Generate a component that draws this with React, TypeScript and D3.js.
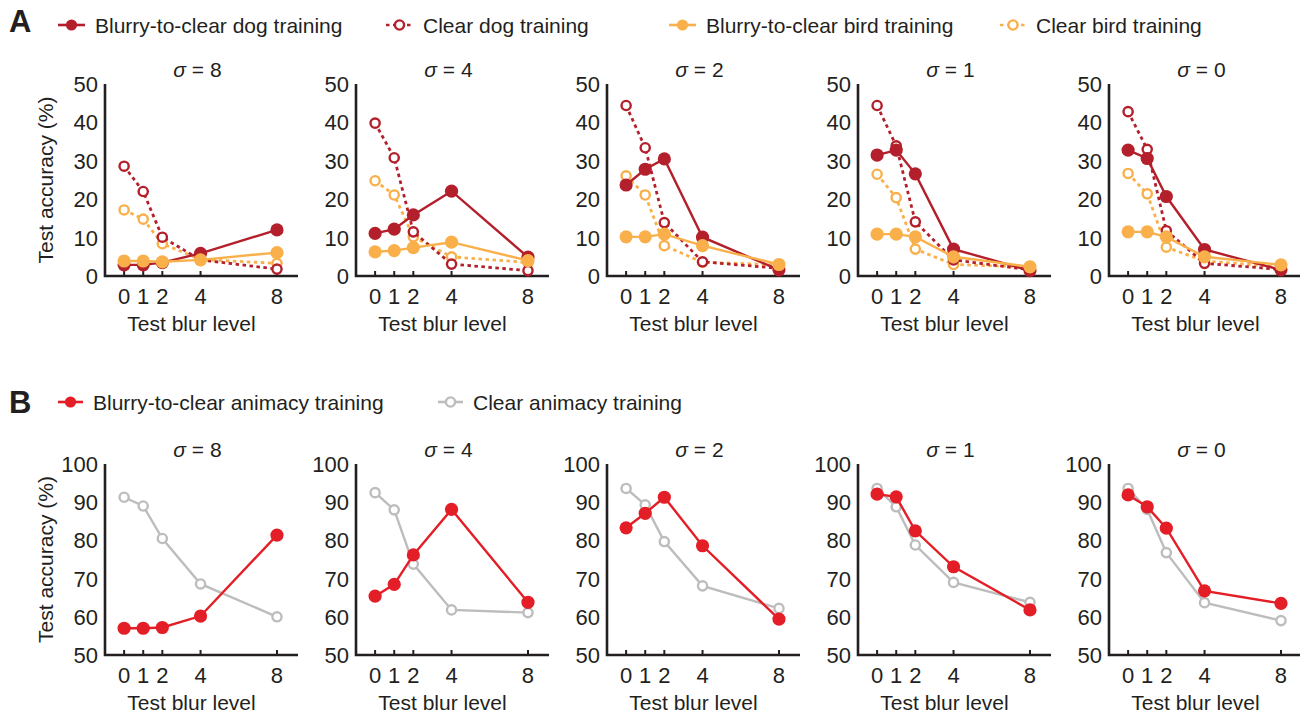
import React from "react";
import * as d3 from "d3";

const blurLevels = [0, 1, 2, 4, 8];
const sigmas = ["8", "4", "2", "1", "0"];

// row A, one array per training sigma (8, 4, 2, 1, 0)
const blurryDog = [
  [2.9, 2.9, 3.5, 5.9, 12.0],
  [11.1, 12.2, 15.9, 22.1, 4.9],
  [23.7, 27.8, 30.5, 10.1, 1.6],
  [31.5, 32.8, 26.6, 7.0, 1.4],
  [32.8, 30.6, 20.7, 6.9, 1.6],
];
const clearDog = [
  [28.6, 22.0, 10.1, 4.2, 1.8],
  [39.8, 30.8, 11.5, 3.1, 1.4],
  [44.4, 33.4, 13.9, 3.7, 2.0],
  [44.4, 33.9, 14.1, 4.2, 1.6],
  [42.8, 33.0, 11.8, 3.3, 1.7],
];
const blurryBird = [
  [3.9, 3.9, 3.7, 4.2, 6.1],
  [6.3, 6.6, 7.4, 8.8, 4.0],
  [10.2, 10.2, 10.9, 7.9, 3.0],
  [10.9, 10.9, 10.2, 5.0, 2.4],
  [11.5, 11.5, 10.2, 5.0, 2.9],
];
const clearBird = [
  [17.2, 14.8, 8.4, 4.3, 3.3],
  [24.8, 21.1, 10.2, 5.0, 3.5],
  [26.1, 21.1, 7.9, 3.6, 2.9],
  [26.5, 20.4, 7.0, 3.0, 2.3],
  [26.7, 21.4, 7.5, 3.9, 2.4],
];

// row B
const blurryAnimacy = [
  [57.0, 57.0, 57.2, 60.2, 81.4],
  [65.4, 68.5, 76.2, 88.1, 63.8],
  [83.3, 87.1, 91.3, 78.6, 59.4],
  [92.1, 91.4, 82.5, 73.1, 61.8],
  [91.9, 88.8, 83.2, 66.8, 63.5],
];
const clearAnimacy = [
  [91.3, 89.0, 80.5, 68.6, 60.0],
  [92.5, 88.0, 73.8, 61.8, 61.1],
  [93.6, 89.3, 79.7, 68.1, 62.2],
  [93.6, 88.8, 78.8, 69.0, 63.8],
  [93.6, 88.1, 76.8, 63.7, 59.0],
];

const DARK_RED = "#b3202c";
const ORANGE = "#f9b04a";
const RED = "#e31e26";
const GRAY = "#bdbdbd";
const INK = "#231f20";
const FONT = "'Liberation Sans', Arial, Helvetica, sans-serif";
const FS = 21;
const TICK_FS = 22;

const panelX0 = 105;
const panelStep = 251;
const plotW = 193;

type Series = { values: number[]; color: string; open: boolean; dashed: boolean; width: number };

function Panel({ idx, top, height, domain, series, showYLabel }: {
  idx: number; top: number; height: number; domain: [number, number];
  series: Series[]; showYLabel: boolean;
}) {
  const x = d3.scaleLinear().domain([-1, 9.1]).range([0, plotW]);
  const y = d3.scaleLinear().domain(domain).range([height, 0]);
  const line = d3.line<number>().x((_, i) => x(blurLevels[i])).y(d => y(d));
  const left = panelX0 + idx * panelStep;
  return (
    <g transform={`translate(${left},${top})`}>
      <text x={plotW / 2 - 4} y={-7} textAnchor="middle" fontSize={FS} fill={INK}>
        <tspan fontStyle="italic">σ</tspan> = {sigmas[idx]}
      </text>
      {y.ticks(5).map(t => (
        <text key={t} x={-7} y={y(t)} dy="0.36em" textAnchor="end" fontSize={TICK_FS} fill={INK}>{t}</text>
      ))}
      {blurLevels.map(b => (
        <g key={b}>
          <line x1={x(b)} x2={x(b)} y1={height} y2={height - 5} stroke={INK} strokeWidth={2} />
          <text x={x(b)} y={height + 28} textAnchor="middle" fontSize={TICK_FS} fill={INK}>{b}</text>
        </g>
      ))}
      <text x={plotW / 2 - 10} y={height + 55} textAnchor="middle" fontSize={FS} fill={INK}>Test blur level</text>
      {showYLabel && (
        <text transform={`translate(-52,${height / 2}) rotate(-90)`} textAnchor="middle" fontSize={FS} fill={INK}>
          Test accuracy (%)
        </text>
      )}
      <path d={`M0,0V${height}H${plotW}`} fill="none" stroke={INK} strokeWidth={2.6} />
      {series.map((s, k) => (
        <g key={k}>
          <path d={line(s.values) || ""} fill="none" stroke={s.color} strokeWidth={s.width}
            strokeDasharray={s.dashed ? "3.5 3.5" : undefined} />
          {s.values.map((v, i) => s.open ? (
            <circle key={i} cx={x(blurLevels[i])} cy={y(v)} r={4.6} fill="white" stroke={s.color} strokeWidth={2.4} />
          ) : (
            <circle key={i} cx={x(blurLevels[i])} cy={y(v)} r={6.6} fill={s.color} />
          ))}
        </g>
      ))}
    </g>
  );
}

function LegendItem({ x, y, color, open, dashed, label, len }: {
  x: number; y: number; color: string; open: boolean; dashed: boolean; label: string; len: number;
}) {
  return (
    <g transform={`translate(${x},${y})`}>
      <line x1={0} x2={len} y1={0} y2={0} stroke={color} strokeWidth={2.6} strokeDasharray={dashed ? "3.5 3.5" : undefined} />
      {open ? (
        <circle cx={len / 2} cy={0} r={4.6} fill="white" stroke={color} strokeWidth={2.4} />
      ) : (
        <circle cx={len / 2} cy={0} r={5.6} fill={color} />
      )}
      <text x={len + 10} y={0} dy="0.36em" fontSize={FS} fill={INK}>{label}</text>
    </g>
  );
}

export default function App() {
  return (
    <svg width={1300} height={713} style={{ position: "absolute", left: 0, top: 0, background: "white" }}
      fontFamily={FONT}>
      <text x={9} y={32} fontSize={31} fontWeight="bold" fill={INK}>A</text>
      <LegendItem x={58} y={25} len={27} color={DARK_RED} open={false} dashed={false} label="Blurry-to-clear dog training" />
      <LegendItem x={386} y={25} len={27} color={DARK_RED} open={true} dashed={true} label="Clear dog training" />
      <LegendItem x={669} y={25} len={27} color={ORANGE} open={false} dashed={false} label="Blurry-to-clear bird training" />
      <LegendItem x={1000} y={25} len={26} color={ORANGE} open={true} dashed={true} label="Clear bird training" />
      {sigmas.map((_, i) => (
        <Panel key={`a${i}`} idx={i} top={84} height={192} domain={[0, 50]} showYLabel={i === 0}
          series={[
            { values: clearBird[i], color: ORANGE, open: true, dashed: true, width: 2.8 },
            { values: clearDog[i], color: DARK_RED, open: true, dashed: true, width: 2.8 },
            { values: blurryDog[i], color: DARK_RED, open: false, dashed: false, width: 2.4 },
            { values: blurryBird[i], color: ORANGE, open: false, dashed: false, width: 2.4 },
          ]} />
      ))}

      <text x={9} y={413} fontSize={31} fontWeight="bold" fill={INK}>B</text>
      <LegendItem x={58} y={402} len={25} color={RED} open={false} dashed={false} label="Blurry-to-clear animacy training" />
      <LegendItem x={438} y={402} len={25} color={GRAY} open={true} dashed={false} label="Clear animacy training" />
      {sigmas.map((_, i) => (
        <Panel key={`b${i}`} idx={i} top={464} height={191} domain={[50, 100]} showYLabel={i === 0}
          series={[
            { values: clearAnimacy[i], color: GRAY, open: true, dashed: false, width: 2.4 },
            { values: blurryAnimacy[i], color: RED, open: false, dashed: false, width: 2.4 },
          ]} />
      ))}
    </svg>
  );
}
